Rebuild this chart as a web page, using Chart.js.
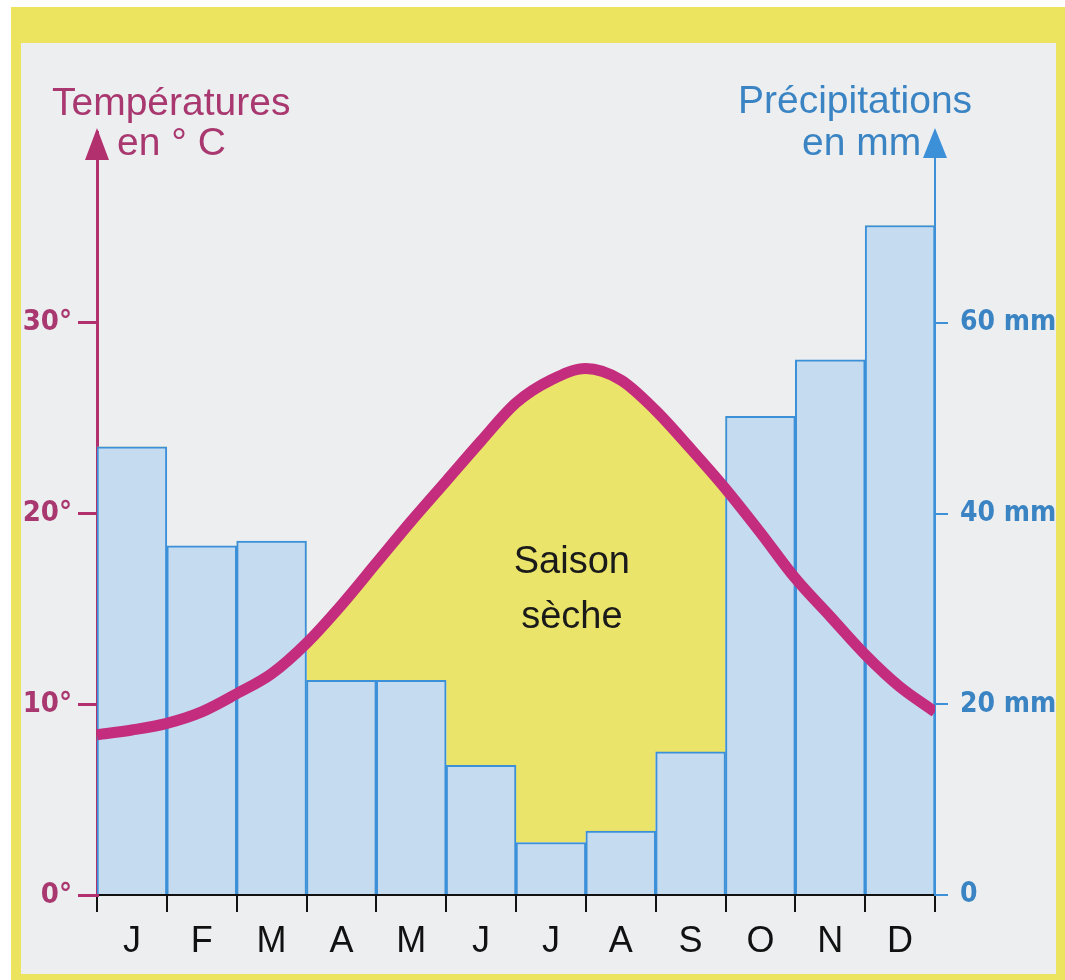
<!DOCTYPE html>
<html lang="fr">
<head>
<meta charset="utf-8">
<title>Diagramme ombrothermique</title>
<script src="https://cdn.jsdelivr.net/npm/chart.js@4/dist/chart.umd.min.js"></script>
<style>
  html, body { margin: 0; padding: 0; background: #fff; }
  #wrap { width: 1065px; height: 980px; }
</style>
</head>
<body>
<div id="wrap"><canvas id="chartCanvas" width="1065" height="980"></canvas></div>
<script>
//data
const months = ["J", "F", "M", "A", "M", "J", "J", "A", "S", "O", "N", "D"];
const precipitation = [47, 36.6, 37.1, 22.5, 22.5, 13.6, 5.5, 6.7, 15, 50.2, 56.1, 70.2]; //mm
//temperature curve read every half month (0 = start of January, 12 = end of December)
const tempX = [0, 0.5, 1, 1.5, 2, 2.5, 3, 3.5, 4, 4.5, 5, 5.5, 6, 6.5, 7, 7.5, 8, 8.5, 9, 9.5, 10, 10.5, 11, 11.5, 12];
const temperature = [8.4, 8.65, 9.0, 9.6, 10.55, 11.6, 13.2, 15.2, 17.4, 19.6, 21.7, 23.8, 25.8, 27.0, 27.6, 27.0, 25.4, 23.4, 21.3, 19.0, 16.6, 14.6, 12.6, 10.9, 9.6]; //°C
const tempTicks = [0, 10, 20, 30];
const precipTicks = [0, 20, 40, 60];

//colors
const MAGENTA = "#c42c7d";
const MAGENTA_AXIS = "#b3306f";
const MAGENTA_TEXT = "#a8386f";
const BLUE = "#3b90d8";
const BLUE_TEXT = "#3a84c4";
const BAR_FILL = "#c4dbf0";
const DRY_YELLOW = "#ebe46a";
const NARROW = "'Liberation Sans Narrow', 'DejaVu Sans Condensed', sans-serif";
const SANS = "'Liberation Sans', Arial, sans-serif";

//step line following the bar tops (for the dry season fill)
const barTops = precipitation.map((v, i) => ({ x: i, y: v }));
barTops.push({ x: 12, y: precipitation[precipitation.length - 1] });

//background, arrows and titles
const decor = {
  id: "decor",
  beforeDraw(chart) {
    const ctx = chart.ctx;
    ctx.save();
    ctx.fillStyle = "#ffffff";
    ctx.fillRect(0, 0, chart.width, chart.height);
    ctx.fillStyle = "#ece45e";
    ctx.fillRect(11, 7, chart.width - 11, chart.height - 7);
    ctx.fillStyle = "#edeef0";
    ctx.fillRect(21, 43, 1035, 931);
    ctx.restore();
  },
  afterDraw(chart) {
    const ctx = chart.ctx;
    const { left, right, top } = chart.chartArea;
    ctx.save();
    //arrows
    ctx.fillStyle = MAGENTA_AXIS;
    ctx.beginPath();
    ctx.moveTo(left, top - 4);
    ctx.lineTo(left - 12, top + 28);
    ctx.lineTo(left + 12, top + 28);
    ctx.closePath();
    ctx.fill();
    ctx.fillStyle = BLUE;
    ctx.beginPath();
    ctx.moveTo(right, top - 4);
    ctx.lineTo(right - 12, top + 26);
    ctx.lineTo(right + 12, top + 26);
    ctx.closePath();
    ctx.fill();
    //axis titles
    ctx.font = "39px " + SANS;
    ctx.textAlign = "left";
    ctx.textBaseline = "alphabetic";
    ctx.fillStyle = MAGENTA_TEXT;
    ctx.fillText("Températures", 52, 115);
    ctx.fillText("en ° C", 117, 155);
    ctx.fillStyle = BLUE_TEXT;
    ctx.fillText("Précipitations", 738, 113);
    ctx.fillText("en mm", 802, 155);
    //dry season label
    ctx.font = "38px " + SANS;
    const sx = chart.scales.x2.getPixelForValue(6.8);
    ctx.fillStyle = "#1a1a1a";
    ctx.textAlign = "center";
    ctx.fillText("Saison", sx, chart.scales.y.getPixelForValue(16.9));
    ctx.fillText("sèche", sx, chart.scales.y.getPixelForValue(14.0));
    ctx.restore();
  },
};

const chart = new Chart(document.getElementById("chartCanvas"), {
  type: "bar",
  data: {
    labels: months,
    datasets: [
      {
        type: "bar",
        label: "Précipitations",
        data: precipitation,
        xAxisID: "x",
        yAxisID: "y2",
        backgroundColor: BAR_FILL,
        borderColor: BLUE,
        borderWidth: 2,
        barPercentage: 1,
        categoryPercentage: 1,
        grouped: false,
        order: 1,
      },
      {
        type: "line",
        label: "Températures",
        data: tempX.map((x, i) => ({ x: x, y: temperature[i] })),
        xAxisID: "x2",
        yAxisID: "y",
        borderColor: MAGENTA,
        borderWidth: 11,
        borderCapStyle: "butt",
        cubicInterpolationMode: "monotone",
        pointRadius: 0,
        fill: { target: 2, above: DRY_YELLOW, below: "rgba(0,0,0,0)" },
        order: 0,
      },
      {
        type: "line",
        label: "bar tops",
        data: barTops,
        xAxisID: "x2",
        yAxisID: "y2",
        stepped: "before",
        borderColor: "rgba(0,0,0,0)",
        borderWidth: 1,
        pointRadius: 0,
        fill: false,
        order: 2,
      },
    ],
  },
  options: {
    responsive: false,
    devicePixelRatio: 1,
    animation: false,
    layout: { padding: { top: 132, left: 0, right: 0, bottom: 0 } },
    plugins: {
      legend: { display: false },
      tooltip: { enabled: false },
      filler: { drawTime: "beforeDatasetsDraw" },
    },
    scales: {
      x: {
        type: "category",
        offset: true,
        grid: { offset: true, drawOnChartArea: false, tickLength: 17, color: "#111", lineWidth: 2 },
        border: { color: "#111", width: 2 },
        ticks: { color: "#111", font: { family: SANS, size: 36 }, padding: 8, maxRotation: 0, autoSkip: false },
        afterFit: (s) => { s.height = 85; },
      },
      x2: { type: "linear", min: 0, max: 12, offset: false, display: false },
      y: {
        position: "left",
        min: 0,
        max: 40,
        afterBuildTicks: (s) => { s.ticks = tempTicks.map((v) => ({ value: v })); },
        grid: { drawOnChartArea: false, tickLength: 19, color: MAGENTA_AXIS, lineWidth: 3 },
        border: { color: MAGENTA_AXIS, width: 3 },
        ticks: { color: MAGENTA_TEXT, font: { family: NARROW, size: 29, weight: "bold" }, padding: 6, callback: (v) => v + "°" },
        afterFit: (s) => { s.width = 97; },
      },
      y2: {
        position: "right",
        min: 0,
        max: 80,
        afterBuildTicks: (s) => { s.ticks = precipTicks.map((v) => ({ value: v })); },
        grid: { drawOnChartArea: false, tickLength: 13, color: BLUE, lineWidth: 2 },
        border: { color: BLUE, width: 2 },
        ticks: { color: BLUE_TEXT, font: { family: NARROW, size: 28, weight: "bold" }, padding: 12, callback: (v) => (v === 0 ? "0" : v + " mm") },
        afterFit: (s) => { s.width = 130; },
      },
    },
  },
  plugins: [decor],
});
</script>
</body>
</html>
